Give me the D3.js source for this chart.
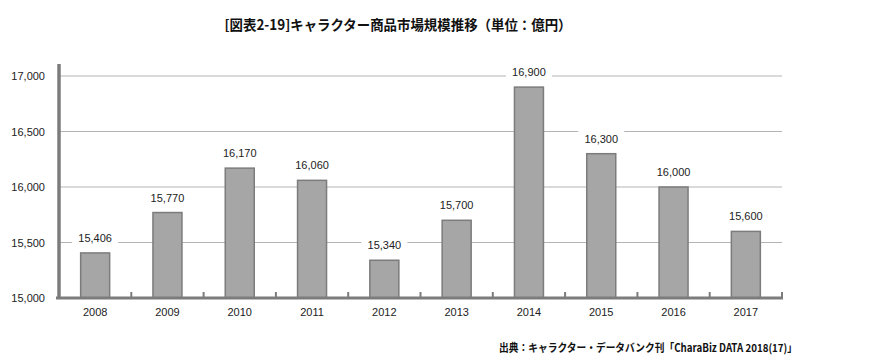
<!DOCTYPE html>
<html>
<head>
<meta charset="utf-8">
<script src="https://cdn.jsdelivr.net/npm/d3@7"></script>
<style>
body{margin:0;background:#fff;}
svg{display:block;}
</style>
</head>
<body>
<div class="chart"></div>
<script>
// data
const years = ['2008','2009','2010','2011','2012','2013','2014','2015','2016','2017'];
const sales = [15406,15770,16170,16060,15340,15700,16900,16300,16000,15600];
const yTicks = [15000,15500,16000,16500,17000];

const W = 884, H = 362;
const m = {left:59, right:102, top:76, bottom:64};

const svg = d3.select('.chart').append('svg')
	.attr('width',W)
	.attr('height',H);

const x = d3.scaleBand()
	.domain(years)
	.range([m.left, W-m.right]);
const y = d3.scaleLinear()
	.domain([15000,17000])
	.range([H-m.bottom, m.top]);

const fontLatin = 'Liberation Sans, Arial, sans-serif';
const fontJp = '"Noto Sans CJK JP", sans-serif';

//gridlines
svg.append('g')
	.selectAll('line')
	.data(yTicks.slice(1))
	.join('line')
	.attr('x1',m.left)
	.attr('x2',W-m.right)
	.attr('y1',d=>y(d))
	.attr('y2',d=>y(d))
	.style('stroke','#b4b4b4')
	.style('stroke-width',1);

//y labels
svg.append('g')
	.selectAll('text')
	.data(yTicks)
	.join('text')
	.attr('x',45)
	.attr('y',d=>y(d)+4)
	.attr('text-anchor','end')
	.style('font-family',fontLatin)
	.style('font-size','11px')
	.style('fill','#222')
	.text(d=>d3.format(',')(d));

//bars
const bw = 29;
svg.append('g')
	.selectAll('rect')
	.data(sales)
	.join('rect')
	.attr('x',(d,i)=>x(years[i])+x.bandwidth()/2-bw/2)
	.attr('y',d=>y(d))
	.attr('width',bw)
	.attr('height',d=>y(15000)-y(d))
	.style('fill','#a6a6a6')
	.style('stroke','#7c7c7c')
	.style('stroke-width',1.5);

//value labels with white box behind them
const lab = svg.append('g')
	.selectAll('g')
	.data(sales)
	.join('g')
	.attr('transform',(d,i)=>`translate(${x(years[i])+x.bandwidth()/2},${y(d)-11})`);
lab.append('rect')
	.attr('x',-23)
	.attr('y',-12)
	.attr('width',46)
	.attr('height',16)
	.style('fill','#fff');
lab.append('text')
	.attr('text-anchor','middle')
	.style('font-family',fontLatin)
	.style('font-size','11px')
	.style('fill','#222')
	.text(d=>d3.format(',')(d));

//axes lines
svg.append('line')
	.attr('x1',m.left)
	.attr('x2',m.left)
	.attr('y1',64)
	.attr('y2',y(15000)+1)
	.style('stroke','#7c7c7c')
	.style('stroke-width',3.5);
svg.append('line')
	.attr('x1',m.left-3)
	.attr('x2',W-m.right+1)
	.attr('y1',y(15000))
	.attr('y2',y(15000))
	.style('stroke','#7c7c7c')
	.style('stroke-width',3);

//small ticks between categories
svg.append('g')
	.selectAll('line')
	.data(years.slice(1).concat(['end']))
	.join('line')
	.attr('x1',(d,i)=>x(years[i])+x.bandwidth())
	.attr('x2',(d,i)=>x(years[i])+x.bandwidth())
	.attr('y1',y(15000))
	.attr('y2',y(15000)-6)
	.style('stroke','#7c7c7c')
	.style('stroke-width',2);

//x labels
svg.append('g')
	.selectAll('text')
	.data(years)
	.join('text')
	.attr('x',d=>x(d)+x.bandwidth()/2)
	.attr('y',316)
	.attr('text-anchor','middle')
	.style('font-family',fontLatin)
	.style('font-size','11px')
	.style('fill','#222')
	.text(d=>d);

//title
svg.append('text')
	.attr('x',398)
	.attr('y',30)
	.attr('text-anchor','middle')
	.attr('textLength',347)
	.attr('lengthAdjust','spacingAndGlyphs')
	.style('font-family',fontJp)
	.style('font-weight','bold')
	.style('font-size','14px')
	.style('fill','#111')
	.text('[図表2-19]キャラクター商品市場規模推移（単位：億円）');

//source
svg.append('text')
	.attr('x',499)
	.attr('y',352)
	.attr('textLength',298)
	.attr('lengthAdjust','spacingAndGlyphs')
	.style('font-family',fontJp)
	.style('font-size','11px')
	.style('font-weight','bold')
	.style('fill','#111')
	.text('出典：キャラクター・データバンク刊「CharaBiz DATA 2018(17)」');
</script>
</body>
</html>
